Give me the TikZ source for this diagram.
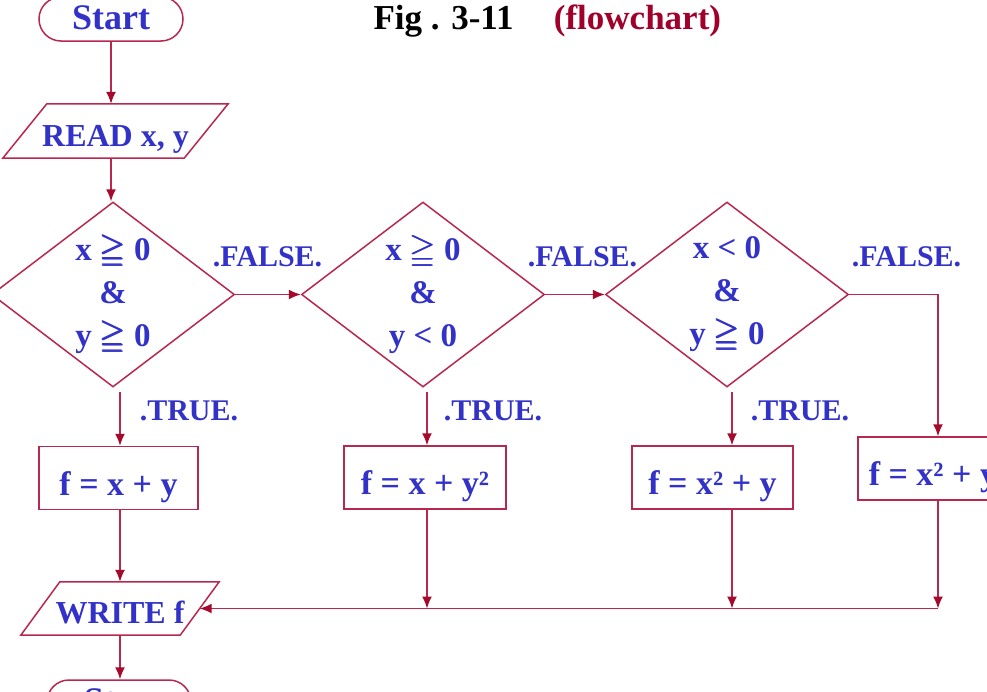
\documentclass[tikz,border=0pt]{standalone}
\usepackage{amsmath,amssymb}
\usepackage{fontspec}
\setmainfont{Liberation Serif}
\usetikzlibrary{arrows.meta,shapes.geometric}
\definecolor{lnred}{RGB}{184,40,78}
\definecolor{tipred}{RGB}{165,10,45}
\definecolor{txtblue}{RGB}{50,50,200}
\definecolor{ttlred}{RGB}{160,0,42}
\newcommand{\gqq}{\ensuremath{\pmb{\geqq}}}
\begin{document}
\begin{tikzpicture}[x=1pt,y=-1pt,
  line/.style={draw=lnred, line width=1.5pt},
  arr/.style={line, -{Latex[length=12pt,width=10pt,color=tipred]}},
  basetext/.style={text=txtblue, font=\bfseries\fontsize{32}{38}\selectfont, inner sep=0pt},
  term/.style={basetext, line, rounded corners=22pt, minimum width=144pt, minimum height=44pt, font=\bfseries\fontsize{36}{40}\selectfont, text height=24pt, text depth=4pt},
  io/.style={basetext, minimum height=54pt},
  proc/.style={basetext, line, minimum height=63pt, text height=38pt, text depth=4pt, font=\bfseries\fontsize{34}{38}\selectfont},
  dec/.style={basetext, line, diamond, aspect=1.3, minimum width=243pt, minimum height=185pt, align=center, font=\bfseries\fontsize{33}{43}\selectfont},
  lbl/.style={text=txtblue, font=\bfseries\fontsize{30}{32}\selectfont, anchor=base, inner sep=0pt},
  ttl/.style={font=\bfseries\fontsize{35}{40}\selectfont, anchor=base, inner sep=0pt},
]
\useasboundingbox (0,0) rectangle (987,691);
\clip (0,0) rectangle (987,691);

% title
\node[ttl] (title) at (443.5,29) {Fig . 3-11};
\node[ttl, text=ttlred] (sub) at (637.5,29) {(flowchart)};

% terminals and I/O
\node[term] (start) at (111,19) {Start};
\node[io, minimum width=181pt, text height=34pt, text depth=4pt] (read) at (115.5,131) {READ x, y};
\draw[line] ([xshift=22pt]read.north west) -- ([xshift=22pt]read.north east) -- ([xshift=-22pt]read.south east) -- ([xshift=-22pt]read.south west) -- cycle;

% decisions
\node[dec] (d1) at (113,294.5) {x \gqq{} 0\\\&\\y \gqq{} 0};
\node[dec] (d2) at (423,294.5) {x \gqq{} 0\\\&\\y < 0};
\node[dec] (d3) at (727,294.5) {x < 0\\\&\\y \gqq{} 0};

% labels
\node[lbl] (fa1) at (267.5,266) {.FALSE.};
\node[lbl] (fa2) at (582.5,266) {.FALSE.};
\node[lbl] (fa3) at (906.5,266) {.FALSE.};
\node[lbl] (tr1) at (189,420) {.TRUE.};
\node[lbl] (tr2) at (493,420) {.TRUE.};
\node[lbl] (tr3) at (800,420) {.TRUE.};

% process boxes
\node[proc, minimum width=159pt] (b1) at (118.5,478) {f = x + y};
\node[proc, minimum width=162pt] (b2) at (425,477.5) {f = x + y²};
\node[proc, minimum width=161pt] (b3) at (712.5,477.5) {f = x² + y};
\node[proc, minimum width=160pt] (b4) at (938,468.5) {f = x² + y²};

% output and stop
\node[io, minimum width=159pt, minimum height=53pt, text height=33pt, text depth=4pt] (write) at (120,608.5) {WRITE f};
\draw[line] ([xshift=19.5pt]write.north west) -- ([xshift=19.5pt]write.north east) -- ([xshift=-19.5pt]write.south east) -- ([xshift=-19.5pt]write.south west) -- cycle;
\node[term] (stop) at (119,702) {Stop};

% connector coordinates
\coordinate (t1) at (120,392);
\coordinate (t2) at (427,392);
\coordinate (t3) at (732,392);

% connectors
\draw[arr] (start.south) -- (start.south |- read.north);
\draw[arr] (start.south |- read.south) -- (start.south |- d1.north);
\draw[arr] (d1.east) -- (d2.west);
\draw[arr] (d2.east) -- (d3.west);
\draw[arr] (d3.east) -| (b4.north);
\draw[arr] (t1) -- (t1 |- b1.north);
\draw[arr] (t2) -- (t2 |- b2.north);
\draw[arr] (t3) -- (t3 |- b3.north);
\draw[arr] (t1 |- b1.south) -- (t1 |- write.north);
\draw[arr] (t2 |- b2.south) -- (t2 |- write.east);
\draw[arr] (t3 |- b3.south) -- (t3 |- write.east);
\draw[arr] (b4.south) -- (b4.south |- write.east);
\draw[arr] (b4.south |- write.east) -- (write.east);
\draw[arr] (t1 |- write.south) -- (t1 |- stop.north);
\end{tikzpicture}
\end{document}
